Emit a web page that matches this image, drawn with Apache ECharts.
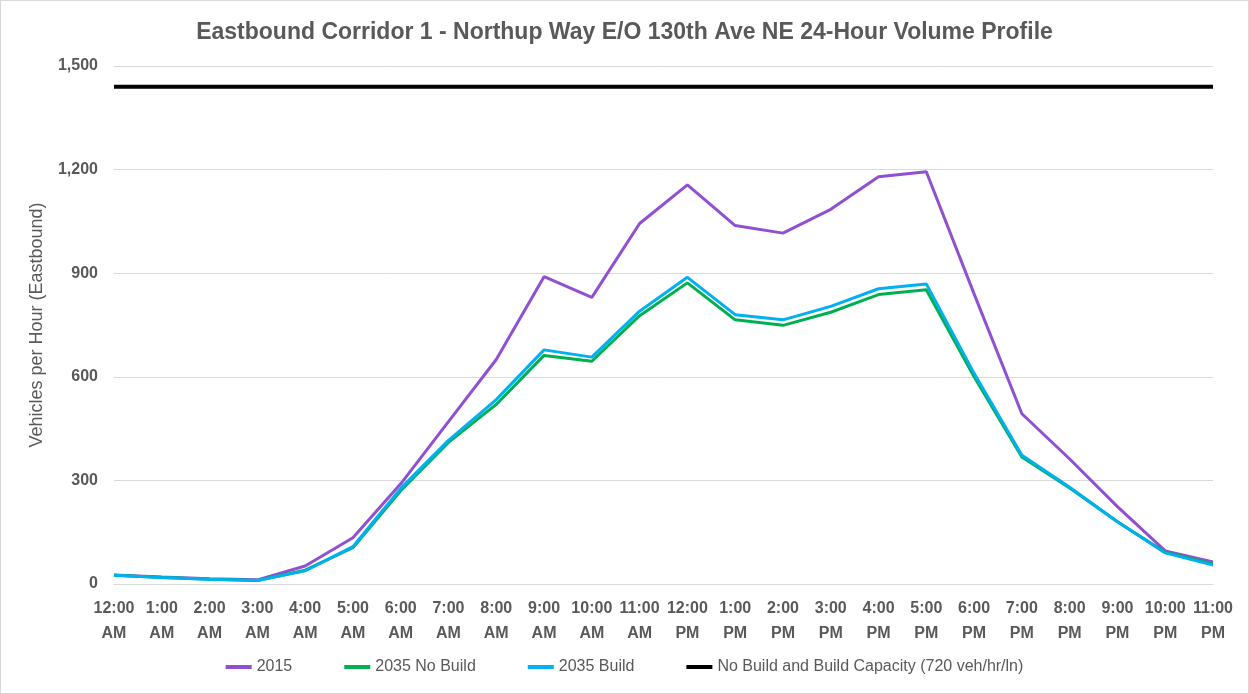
<!DOCTYPE html>
<html>
<head>
<meta charset="UTF-8">
<title>Eastbound Corridor 1 - Volume Profile</title>
<script src="https://cdn.jsdelivr.net/npm/echarts@6/dist/echarts.min.js"></script>
<style>
html, body { margin: 0; padding: 0; background: #fff; }
#chart { width: 1247px; height: 692px; border: 1px solid #d9d9d9; }
</style>
</head>
<body>
<div id="chart"></div>
<script>
// hours of the day, shown as two-line labels
var hours = ['12:00\nAM', '1:00\nAM', '2:00\nAM', '3:00\nAM', '4:00\nAM', '5:00\nAM',
  '6:00\nAM', '7:00\nAM', '8:00\nAM', '9:00\nAM', '10:00\nAM', '11:00\nAM',
  '12:00\nPM', '1:00\nPM', '2:00\nPM', '3:00\nPM', '4:00\nPM', '5:00\nPM',
  '6:00\nPM', '7:00\nPM', '8:00\nPM', '9:00\nPM', '10:00\nPM', '11:00\nPM'];

var vol2015 = [26, 20, 15, 12, 52, 134, 290, 470, 650, 890, 830, 1044,
  1156, 1038, 1016, 1085, 1179, 1194, 840, 493, 362, 224, 96, 64];
var vol2035NoBuild = [25, 19, 14, 10, 40, 105, 270, 410, 520, 662, 645, 777,
  872, 765, 749, 787, 838, 852, 600, 368, 278, 180, 92, 58];
var vol2035Build = [25, 19, 14, 10, 38, 108, 277, 416, 534, 678, 657, 790,
  888, 780, 765, 804, 855, 869, 610, 373, 280, 180, 90, 55];
var capacity = 1440;
var capacityLine = hours.map(function () { return capacity; });

var names = ['2015', '2035 No Build', '2035 Build', 'No Build and Build Capacity (720 veh/hr/ln)'];
var colors = ['#9050d0', '#00b050', '#00b0f0', '#000000'];

var font = "'Liberation Sans', sans-serif";
var chart = echarts.init(document.getElementById('chart'));

function lineSeries(name, data, color, width) {
  return {
    name: name,
    type: 'line',
    data: data,
    symbol: 'none',
    smooth: false,
    lineStyle: { color: color, width: width },
    itemStyle: { color: color },
    emphasis: { disabled: true }
  };
}

chart.setOption({
  animation: false,
  textStyle: { fontFamily: font },
  title: {
    text: 'Eastbound Corridor 1 - Northup Way E/O 130th Ave NE 24-Hour Volume Profile',
    left: 'center',
    top: 15,
    textStyle: { fontFamily: font, fontSize: 23, fontWeight: 'bold', color: '#595959' }
  },
  legend: {
    data: names,
    bottom: 13,
    left: 'center',
    icon: 'rect',
    itemWidth: 26,
    itemHeight: 4,
    itemGap: 52,
    textStyle: { fontFamily: font, fontSize: 16, color: '#595959' }
  },
  grid: { left: 113, right: 35, top: 65, bottom: 109, containLabel: false },
  xAxis: {
    type: 'category',
    data: hours,
    boundaryGap: false,
    axisLine: { lineStyle: { color: '#d9d9d9', width: 1 } },
    axisTick: { show: false },
    splitLine: { show: false },
    axisLabel: {
      interval: 0,
      margin: 12,
      color: '#595959',
      fontFamily: font,
      fontSize: 16,
      fontWeight: 'bold',
      lineHeight: 25
    }
  },
  yAxis: {
    type: 'value',
    min: 0,
    max: 1500,
    interval: 300,
    name: 'Vehicles per Hour (Eastbound)',
    nameLocation: 'middle',
    nameGap: 68,
    nameTextStyle: { fontFamily: font, fontSize: 18, color: '#595959' },
    axisLine: { show: false },
    axisTick: { show: false },
    splitLine: { lineStyle: { color: '#d9d9d9', width: 1 } },
    axisLabel: {
      margin: 16,
      color: '#595959',
      fontFamily: font,
      fontSize: 16,
      fontWeight: 'bold',
      formatter: function (v) { return v.toLocaleString('en-US'); }
    }
  },
  series: [
    lineSeries(names[0], vol2015, colors[0], 3),
    lineSeries(names[1], vol2035NoBuild, colors[1], 3),
    lineSeries(names[2], vol2035Build, colors[2], 3),
    lineSeries(names[3], capacityLine, colors[3], 4)
  ]
});
</script>
</body>
</html>
